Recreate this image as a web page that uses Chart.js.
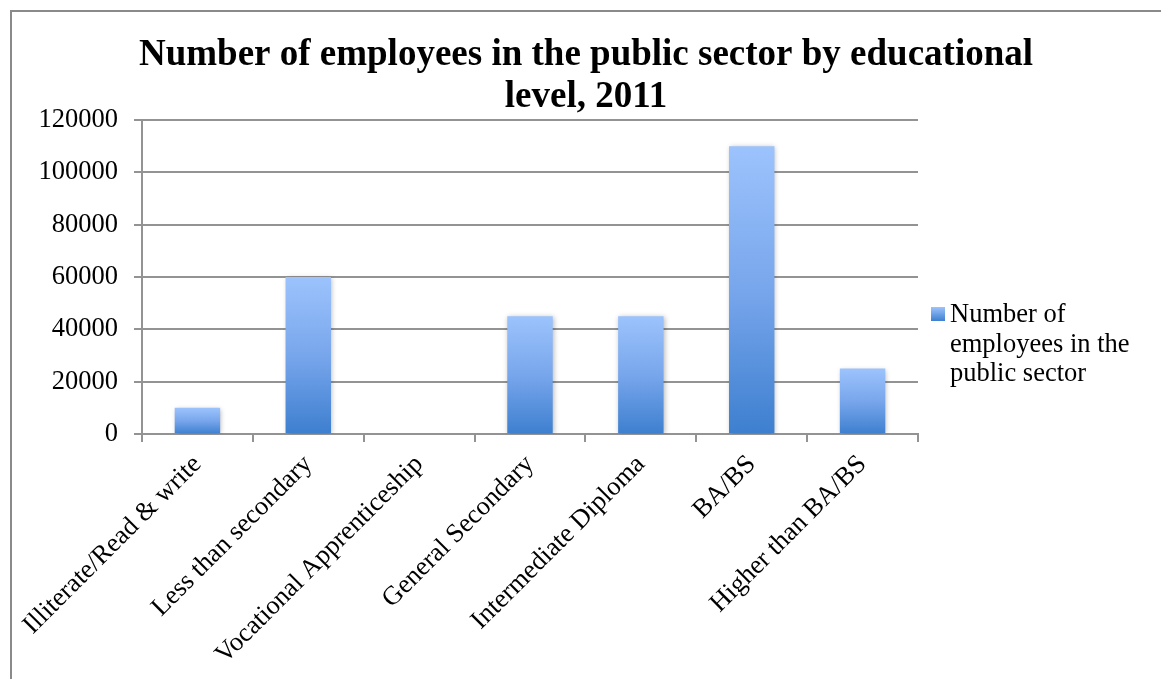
<!DOCTYPE html>
<html>
<head>
<meta charset="utf-8">
<script src="https://cdn.jsdelivr.net/npm/chart.js@4.4.1/dist/chart.umd.min.js"></script>
<style>
  html, body { margin: 0; padding: 0; background: #fff; }
  #wrap { position: relative; width: 1161px; height: 679px; }
</style>
</head>
<body>
<div id="wrap"><canvas id="chart"></canvas></div>
<script>
// categories and values
var levels = ["Illiterate/Read & write", "Less than secondary", "Vocational Apprenticeship",
              "General Secondary", "Intermediate Diploma", "BA/BS", "Higher than BA/BS"];
var employees = [10000, 60000, 0, 45000, 45000, 110000, 25000];
var yTicks = [0, 20000, 40000, 60000, 80000, 100000, 120000];
var seriesLabel = ["Number of", "employees in the", "public sector"];
var titleLines = ["Number of employees in the public sector by educational", "level, 2011"];

var SERIF = '"Liberation Serif", "Times New Roman", serif';
var GRID = '#939393';
var TEXT_SIZE = 26.5;

Chart.defaults.font.family = SERIF;
Chart.defaults.color = '#000';

// bar fill: light blue at the top fading to a deeper blue at the base
function barFill(c) {
  var chart = c.chart;
  if (!chart.chartArea || c.raw === undefined) return '#6f9fe4';
  var y = chart.scales.y;
  var top = y.getPixelForValue(c.raw), base = y.getPixelForValue(0);
  if (base - top < 1) return '#3f80cf';
  var g = chart.ctx.createLinearGradient(0, top, 0, base);
  g.addColorStop(0, '#9cc3fc');
  g.addColorStop(0.5, '#78a6ec');
  g.addColorStop(1, '#3d7fcf');
  return g;
}

// outer frame, title and side legend
var decor = {
  id: 'decor',
  beforeDraw: function (chart) {
    var ctx = chart.ctx;
    ctx.save();
    ctx.strokeStyle = '#8a8a8a';
    ctx.lineWidth = 2;
    ctx.beginPath();
    ctx.moveTo(11, chart.height + 5);
    ctx.lineTo(11, 11);
    ctx.lineTo(chart.width + 5, 11);
    ctx.stroke();
    ctx.restore();
  },
  beforeDatasetsDraw: function (chart) {
    var ctx = chart.ctx;
    ctx.save();
    ctx.shadowColor = 'rgba(0,0,0,0.28)';
    ctx.shadowBlur = 5;
    ctx.shadowOffsetX = 1;
    ctx.shadowOffsetY = 1;
  },
  afterDatasetsDraw: function (chart) {
    chart.ctx.restore();
  },
  afterDraw: function (chart) {
    var ctx = chart.ctx;
    ctx.save();
    ctx.fillStyle = '#000';
    ctx.textAlign = 'center';
    ctx.textBaseline = 'alphabetic';
    ctx.font = 'bold 37px ' + SERIF;
    ctx.fillText(titleLines[0], 586, 65);
    ctx.fillText(titleLines[1], 586, 107);

    // legend swatch
    var bx = 931, by = 307, bs = 14;
    var g = ctx.createLinearGradient(0, by, 0, by + bs);
    g.addColorStop(0, '#9cc3fc');
    g.addColorStop(1, '#3d7fcf');
    ctx.fillStyle = g;
    ctx.fillRect(bx, by, bs, bs);

    ctx.fillStyle = '#000';
    ctx.textAlign = 'left';
    ctx.font = TEXT_SIZE + 'px ' + SERIF;
    seriesLabel.forEach(function (line, i) {
      ctx.fillText(line, 950, 322 + i * 29.5);
    });
    ctx.restore();
  }
};

new Chart(document.getElementById('chart'), {
  type: 'bar',
  data: {
    labels: levels,
    datasets: [{
      label: seriesLabel.join(' '),
      data: employees,
      backgroundColor: barFill,
      borderWidth: 0,
      categoryPercentage: 1,
      barPercentage: 0.41
    }]
  },
  options: {
    responsive: true,
    maintainAspectRatio: false,
    animation: false,
    layout: { padding: { left: 0, top: 120, right: 243, bottom: 0 } },
    plugins: {
      legend: { display: false },
      title: { display: false },
      tooltip: { enabled: false }
    },
    scales: {
      x: {
        grid: { offset: true, drawOnChartArea: false, drawTicks: true, tickLength: 8, color: GRID, lineWidth: 2 },
        border: { display: true, color: GRID, width: 2 },
        ticks: { minRotation: 45, maxRotation: 45, padding: 7, autoSkip: false, font: { size: TEXT_SIZE } },
        afterFit: function (s) { s.height = 245; }
      },
      y: {
        min: 0,
        max: 120000,
        afterBuildTicks: function (s) { s.ticks = yTicks.map(function (v) { return { value: v }; }); },
        grid: { color: GRID, lineWidth: 2, drawTicks: true, tickLength: 8 },
        border: { display: true, color: GRID, width: 2 },
        ticks: { padding: 16, font: { size: TEXT_SIZE }, callback: function (v) { return String(v); } },
        afterFit: function (s) { s.width = 142; }
      }
    }
  },
  plugins: [decor]
});
</script>
</body>
</html>
